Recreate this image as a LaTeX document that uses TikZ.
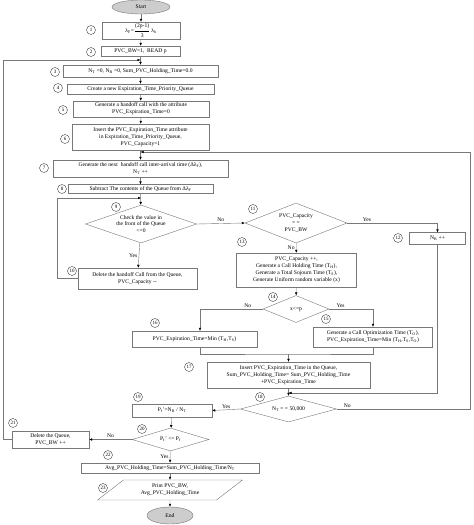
\documentclass[tikz,border=0pt]{standalone}
\usepackage{amsmath}
\usepackage{fontspec}
\setmainfont{Liberation Serif}
\usetikzlibrary{shapes.geometric, arrows.meta, positioning, calc}
\definecolor{lineGray}{RGB}{120, 120, 120}
\definecolor{termGray}{RGB}{205, 205, 205}
\newcommand{\flowfont}{\fontsize{5.6}{6.9}\selectfont}
\newcommand{\numfont}{\fontsize{5}{5}\selectfont}
\tikzset{
  flowbox/.style={draw=lineGray, fill=white, inner sep=1pt, align=center, font=\flowfont},
  decision/.style={diamond, draw=lineGray, fill=white, inner sep=0pt},
  dtext/.style={font=\flowfont, align=center, inner sep=0pt},
  terminal/.style={ellipse, draw=lineGray, fill=termGray, font=\flowfont, inner sep=0pt},
  iobox/.style={trapezium, trapezium left angle=36, trapezium right angle=144, trapezium stretches=true,
    draw=lineGray, fill=white, align=center, font=\flowfont, inner sep=0pt},
  stepnum/.style={circle, draw=black!75, inner sep=0pt, minimum size=9pt, font=\numfont},
  flow/.style={draw=lineGray, -{Latex[color=black, length=3pt, width=2.6pt]}},
  link/.style={draw=lineGray},
  yn/.style={font=\flowfont, inner sep=1.5pt}
}

\begin{document}
\begin{tikzpicture}[x=1pt, y=-1pt]
\useasboundingbox (0,0) rectangle (474,525);

% main column
\node[terminal, minimum width=58, minimum height=14] (start) at (141,7) {Start};
\node[flowbox, minimum width=78, minimum height=17] (b1) at (141,30.5) {λ\textsubscript{F}=$\genfrac{}{}{0.3pt}{0}{\text{(2p-1)}}{\text{3}}$\,λ\textsubscript{h}};
\node[flowbox, minimum width=79, minimum height=10] (b2) at (140.5,51) {PVC\_BW=1,\ \ READ p};
\node[flowbox, minimum width=155, minimum height=12] (b3) at (140.5,71) {N\textsubscript{T} =0, N\textsubscript{B} =0, Sum\_PVC\_Holding\_Time=0.0};
\node[flowbox, minimum width=147, minimum height=10] (b4) at (140.5,89) {Create a new Expiration\_Time\_Priority\_Queue};
\node[flowbox, minimum width=136, minimum height=16] (b5) at (141,109) {Generate a handoff call with the attribute\\PVC\_Expiration\_Time=0};
\node[flowbox, minimum width=137, minimum height=26] (b6) at (140.5,137) {Insert the PVC\_Expiration\_Time attribute\\in Expiration\_Time\_Priority\_Queue,\\PVC\_Capacity=1};
\node[flowbox, minimum width=175, minimum height=17] (b7) at (140.5,168.5) {Generate the next\ \ handoff call inter-arrival time (Δλ\textsubscript{F}),\\N\textsubscript{T} ++};
\node[flowbox, minimum width=145, minimum height=9] (b8) at (140.5,189) {Subtract The contents of the Queue from Δλ\textsubscript{F}};
\node[decision, minimum width=111, minimum height=38,
  label={[dtext]center:Check the value in\\the front of the Queue\\<=0}] (d9) at (141,224) {};
\node[flowbox, minimum width=119, minimum height=21] (b10) at (137.5,278.5) {Delete the handoff Call from the Queue,\\PVC\_Capacity -{}-};

% right branch
\node[decision, minimum width=102, minimum height=40,
  label={[dtext]center:PVC\_Capacity\\= =\\PVC\_BW}] (d11) at (296,223) {};
\node[flowbox, minimum width=56, minimum height=12] (b12) at (437.5,238.5) {N\textsubscript{B} ++};
\node[flowbox, minimum width=120, minimum height=34] (b13) at (296.5,270) {PVC\_Capacity ++,\\Generate a Call Holding Time (T\textsubscript{H}),\\Generate a Total Sojourn Time (T\textsubscript{S}),\\Generate Uniform random variable (x)};
\node[decision, minimum width=66, minimum height=27,
  label={[dtext]center:x<=p}] (d14) at (296,309) {};
\node[flowbox, minimum width=119, minimum height=20] (b15) at (373,337) {Generate a Call Optimization Time (T\textsubscript{O}),\\PVC\_Expiration\_Time=Min (T\textsubscript{H},T\textsubscript{S},T\textsubscript{O})};
\node[flowbox, minimum width=125, minimum height=16] (b16) at (194.5,339) {PVC\_Expiration\_Time=Min (T\textsubscript{H},T\textsubscript{S})};
\node[flowbox, minimum width=163, minimum height=26] (b17) at (288.5,375) {Insert PVC\_Expiration\_Time in the Queue,\\Sum\_PVC\_Holding\_Time= Sum\_PVC\_Holding\_Time\\+PVC\_Expiration\_Time};
\node[decision, minimum width=96, minimum height=26,
  label={[dtext]center:N\textsubscript{T} = = 50,000}] (d18) at (288.5,409) {};

% bottom part
\node[flowbox, minimum width=80, minimum height=13] (b19) at (172,410.5) {P\textsubscript{f}'=N\textsubscript{B} / N\textsubscript{T}};
\node[decision, minimum width=77, minimum height=23,
  label={[dtext]center:P\textsubscript{f}' <= P\textsubscript{f}}] (d20) at (170.5,439.5) {};
\node[flowbox, minimum width=77, minimum height=17] (b21) at (50.5,439.5) {Delete the Queue,\\PVC\_BW ++};
\node[flowbox, minimum width=178, minimum height=10] (b22) at (170,468) {Avg\_PVC\_Holding\_Time=Sum\_PVC\_Holding\_Time/N\textsubscript{T}};
\node[iobox, minimum width=146, minimum height=20] (b23) at (170,490) {Print PVC\_BW,\\Avg\_PVC\_Holding\_Time};
\node[terminal, minimum width=46, minimum height=17] (end) at (170,515.5) {End};

% step numbers
\foreach \n/\x/\y in {1/91/30, 2/91/52, 3/55/72, 4/58/88, 5/63/110, 6/65/139, 7/44/168, 8/62/189,
  9/116/207, 10/72/271, 11/253/209, 12/398/238, 13/242/242, 14/273/297, 15/326/319, 16/155/323,
  17/189/367, 18/260/397, 19/138/397, 20/142/429, 21/13/423, 22/108/455, 23/103/488}
  \node[stepnum] (n\n) at (\x,\y) {\n};

% join points
\coordinate (j3) at (140.5,60);
\coordinate (j7) at (140.5,152);
\coordinate (j9) at (141,198);
\coordinate (j17) at (288.5,354);
\coordinate (j18) at (288.5,393);
\coordinate (outerL) at (3,60);
\coordinate (outerR) at (470,152);
\coordinate (loop9) at (57,198);

% straight connectors
\draw[flow] (start) -- (b1);
\draw[flow] (b1) -- (b2);
\draw[flow] (b2) -- (b3);
\draw[flow] (b3) -- (b4);
\draw[flow] (b4) -- (b5);
\draw[flow] (b5) -- (b6);
\draw[flow] (b6) -- (b7);
\draw[flow] (b7) -- (b8);
\draw[flow] (b8) -- (d9);
\draw[flow] (d9) -- node[yn, left] (yes9) {Yes} (b10);
\draw[flow] (d9.east) -- node[yn, above] (no9) {No} (d11.west);
\draw[flow] (d11.east) -| node[yn, above, pos=0.11] (yes11) {Yes} (b12.north);
\draw[flow] (d11) -- node[yn, left] (no11) {No} (b13);
\draw[flow] (b13) -- (d14);
\draw[flow] (d14.west) -| node[yn, above, pos=0.12] (no14) {No} ([xshift=5.5]b16.north);
\draw[flow] (d14.east) -| node[yn, above, pos=0.13] (yes14) {Yes} (b15.north);
\draw[link] ([xshift=5.5]b16.south) |- (j17) -| (b15.south);
\draw[flow] (j17) -- (b17);
\draw[flow] (b17) -- (d18);
\draw[flow] (d18.west) -- node[yn, above] (yes18) {Yes} (b19.east);
\draw[flow] (b19) -- (d20);
\draw[flow] (d20.west) -- node[yn, above] (no20) {No} (b21.east);
\draw[flow] (d20) -- node[yn, left] (yes20) {Yes} (b22);
\draw[flow] (b22) -- (b23);
\draw[flow] (b23) -- (end);

% loops back
\draw[flow] (b10.west) -| (loop9) -- (j9);
\draw[flow] (b12.south) |- (j18);
\draw[flow] (d18.east) -| node[yn, above, pos=0.04] (no18) {No} (outerR) -- (j7);
\draw[flow] (b21.west) -| (outerL) -- (j3);
\end{tikzpicture}
\end{document}
